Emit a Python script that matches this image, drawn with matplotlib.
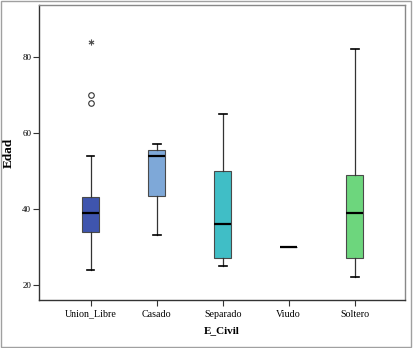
import matplotlib
matplotlib.use("Agg")
import matplotlib.pyplot as plt
from matplotlib.patches import Rectangle

categories = ["Union_Libre", "Casado", "Separado", "Viudo", "Soltero"]
whislo = [24, 33, 25, 30, 22]
q1 = [34, 43.5, 27, 30, 27]
med = [39, 54, 36, 30, 39]
q3 = [43, 55.5, 50, 30, 49]
whishi = [54, 57, 65, 30, 82]
outlier_circle = [[70, 68], [], [], [], []]
outlier_star = [[84], [], [], [], []]
colors = ["#3f55ae", "#7ea8d8", "#40bec6", "#3f55ae", "#6dd67d"]
yticks = [20, 40, 60, 80]

plt.rcParams['font.family'] = ['Liberation Serif', 'DejaVu Serif']

fig = plt.figure(figsize=(4.13, 3.48), dpi=100)
ax = fig.add_axes([39/413, 1-300/348, (405-39)/413, (300-5)/348])

stats = []
for i, c in enumerate(categories):
    stats.append(dict(label=c, whislo=whislo[i], q1=q1[i], med=med[i],
                      q3=q3[i], whishi=whishi[i], fliers=[]))
pos = list(range(1, len(categories) + 1))
bp = ax.bxp(stats, positions=pos, widths=0.26, patch_artist=True,
            showfliers=False,
            boxprops=dict(edgecolor="#4a4a4a", linewidth=0.8),
            medianprops=dict(color="black", linewidth=1.6),
            whiskerprops=dict(color="#333333", linewidth=0.9),
            capprops=dict(color="black", linewidth=1.2),
            capwidths=0.12)
for patch, col in zip(bp['boxes'], colors):
    patch.set_facecolor(col)

for i in range(len(categories)):
    if outlier_circle[i]:
        ax.plot([pos[i]] * len(outlier_circle[i]), outlier_circle[i], 'o',
                mfc='none', mec='#333333', ms=4, mew=0.8)
    if outlier_star[i]:
        ax.plot([pos[i]] * len(outlier_star[i]), outlier_star[i],
                marker=r'$\ast$', linestyle='none', color='#444444', ms=4, mew=0.3)

ax.set_xlim(0.22, 5.76)
ax.set_ylim(16, 93.7)
ax.set_yticks(yticks)
ax.set_xticks(pos)
ax.set_xticklabels(categories, fontsize=7.2)
ax.tick_params(axis='y', labelsize=6.5, length=4, width=0.8, color='#333333', pad=1.5)
ax.tick_params(axis='x', length=4, width=0.8, color='#333333', pad=3)
for s in ['right', 'top']:
    ax.spines[s].set_color('#888888')
for s in ['left', 'bottom']:
    ax.spines[s].set_color('#333333')
for s in ax.spines.values():
    s.set_linewidth(1.0)

ax.set_xlabel("E_Civil", fontsize=8, fontweight='bold', labelpad=5)
ax.set_ylabel("Edad", fontsize=9.5, fontweight='bold')
ax.yaxis.set_label_coords(-24/366, 0.5)

fig.patches.append(Rectangle((0.002, 0.003), 0.994, 0.994, transform=fig.transFigure,
                             fill=False, edgecolor='#a0a0a0', linewidth=1.0))

fig.savefig("out.png", dpi=100)
